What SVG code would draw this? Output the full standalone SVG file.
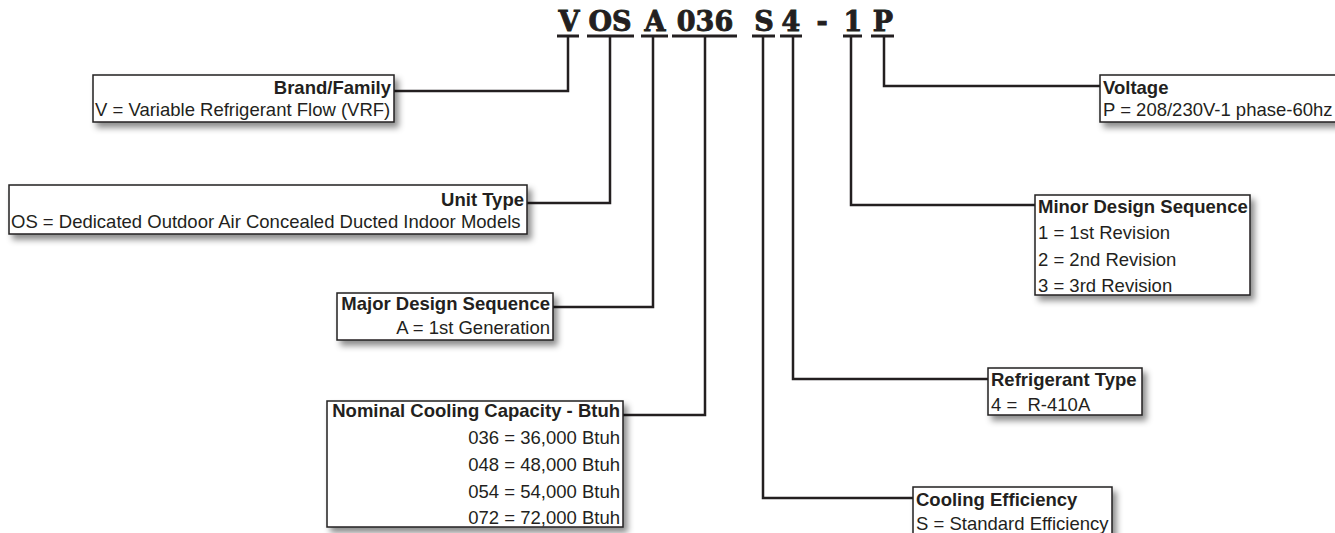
<svg xmlns="http://www.w3.org/2000/svg" width="1335" height="533" viewBox="0 0 1335 533">
<defs>
<filter id="sh" x="-10%" y="-20%" width="130%" height="160%">
<feDropShadow dx="4" dy="5" stdDeviation="3" flood-color="#000" flood-opacity="0.45"/>
</filter>
<style>
.box{fill:#fff;stroke:#231f20;stroke-width:1.5;filter:url(#sh)}
.t{font-family:"Liberation Sans",Arial,sans-serif;font-size:18.5px;fill:#231f20}
.b{font-weight:bold}
.code{font-family:"DejaVu Serif","Liberation Serif",serif;font-weight:bold;font-size:27px;fill:#231f20;stroke:#231f20;stroke-width:0.9;text-anchor:middle}
.ul{stroke:#231f20;stroke-width:3}
.con{fill:none;stroke:#231f20;stroke-width:2.5}
</style>
</defs>
<rect width="1335" height="533" fill="#fff"/>
<g id="model-code">
<text class="code" x="569" y="31">V</text>
<text class="code" x="610" y="31">OS</text>
<text class="code" x="655" y="31">A</text>
<text class="code" x="705" y="31">036</text>
<text class="code" x="764" y="31">S</text>
<text class="code" x="791" y="31">4</text>
<text class="code" x="822" y="31">-</text>
<text class="code" x="853" y="31">1</text>
<text class="code" x="883" y="31">P</text>
<line class="ul" x1="557" y1="36" x2="579" y2="36"/>
<line class="ul" x1="587" y1="36" x2="634" y2="36"/>
<line class="ul" x1="641" y1="36" x2="668" y2="36"/>
<line class="ul" x1="672" y1="36" x2="737" y2="36"/>
<line class="ul" x1="752" y1="36" x2="775" y2="36"/>
<line class="ul" x1="780" y1="36" x2="802" y2="36"/>
<line class="ul" x1="843" y1="36" x2="862" y2="36"/>
<line class="ul" x1="871" y1="36" x2="894" y2="36"/>
</g>
<g id="connectors">
<polyline class="con" points="568,36 568,91 394,91"/>
<polyline class="con" points="610,36 610,203 527,203"/>
<polyline class="con" points="653,36 653,307 553,307"/>
<polyline class="con" points="705,36 705,415 623,415"/>
<polyline class="con" points="763,36 763,498 913,498"/>
<polyline class="con" points="793,36 793,379 988,379"/>
<polyline class="con" points="851,36 851,205 1035,205"/>
<polyline class="con" points="884,36 884,86 1100,86"/>
</g>
<g id="brand">
<rect class="box" x="93" y="75" width="301" height="47"/>
<text class="t b" x="391" y="94" text-anchor="end">Brand/Family</text>
<text class="t" x="95" y="116">V = Variable Refrigerant Flow (VRF)</text>
</g>
<g id="unit-type">
<rect class="box" x="9" y="185" width="518" height="49"/>
<text class="t b" x="524" y="206" text-anchor="end">Unit Type</text>
<text class="t" x="11" y="228">OS = Dedicated Outdoor Air Concealed Ducted Indoor Models</text>
</g>
<g id="major">
<rect class="box" x="337" y="293" width="216" height="47"/>
<text class="t b" x="550" y="310" text-anchor="end">Major Design Sequence</text>
<text class="t" x="550" y="334" text-anchor="end">A = 1st Generation</text>
</g>
<g id="capacity">
<rect class="box" x="327" y="401" width="296" height="126"/>
<text class="t b" x="620" y="417" text-anchor="end">Nominal Cooling Capacity - Btuh</text>
<text class="t" x="620" y="444" text-anchor="end">036 = 36,000 Btuh</text>
<text class="t" x="620" y="471" text-anchor="end">048 = 48,000 Btuh</text>
<text class="t" x="620" y="498" text-anchor="end">054 = 54,000 Btuh</text>
<text class="t" x="620" y="524" text-anchor="end">072 = 72,000 Btuh</text>
</g>
<g id="voltage">
<rect class="box" x="1100" y="75" width="245" height="47"/>
<text class="t b" x="1103" y="94">Voltage</text>
<text class="t" x="1103" y="116">P = 208/230V-1 phase-60hz</text>
</g>
<g id="minor">
<rect class="box" x="1035" y="195" width="215" height="100"/>
<text class="t b" x="1038" y="213">Minor Design Sequence</text>
<text class="t" x="1038" y="239">1 = 1st Revision</text>
<text class="t" x="1038" y="266">2 = 2nd Revision</text>
<text class="t" x="1038" y="292">3 = 3rd Revision</text>
</g>
<g id="refrigerant">
<rect class="box" x="988" y="368" width="154" height="47"/>
<text class="t b" x="991" y="386">Refrigerant Type</text>
<text class="t" x="991" y="411" xml:space="preserve">4 =  R-410A</text>
</g>
<g id="efficiency">
<rect class="box" x="913" y="487" width="199" height="60"/>
<text class="t b" x="916" y="506">Cooling Efficiency</text>
<text class="t" x="916" y="530">S = Standard Efficiency</text>
</g>
</svg>
